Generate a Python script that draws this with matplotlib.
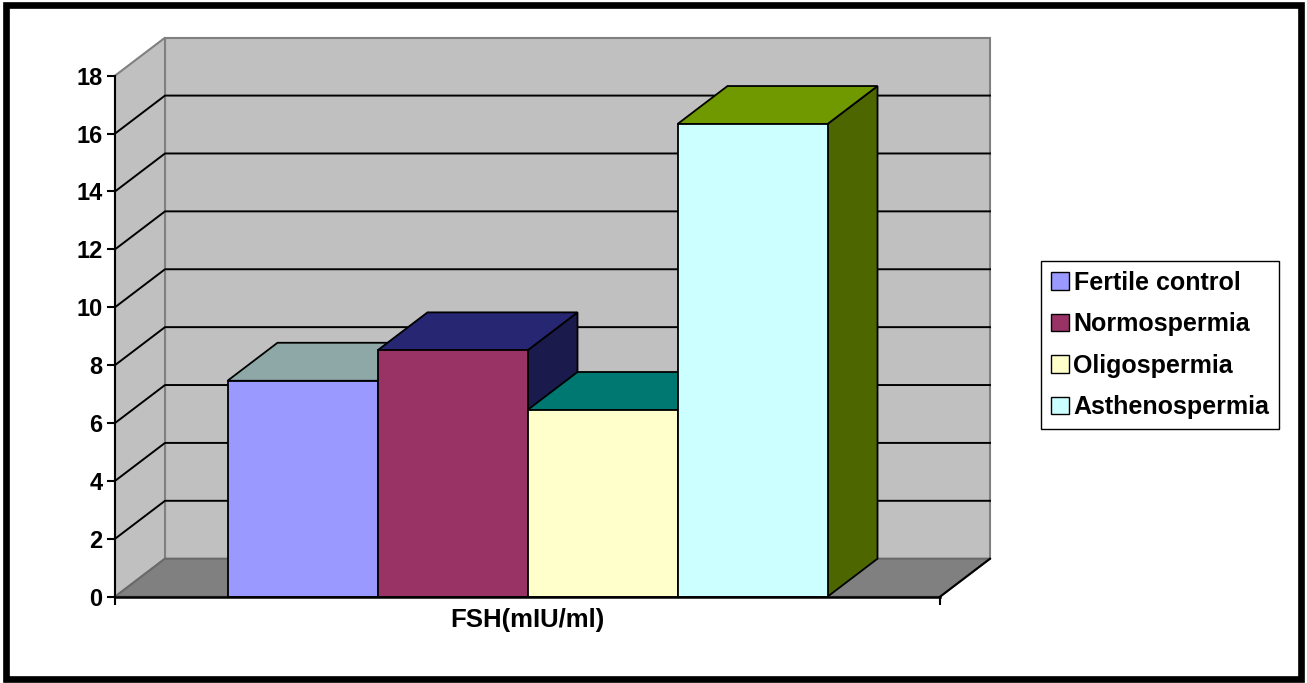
import matplotlib
matplotlib.use('Agg')
import matplotlib.pyplot as plt
import matplotlib.patches as patches
from matplotlib.lines import Line2D

# data
groups = ['Fertile control', 'Normospermia', 'Oligospermia', 'Asthenospermia']
fsh = [7.46, 8.51, 6.45, 16.33]
category = 'FSH(mIU/ml)'
yticks = [0, 2, 4, 6, 8, 10, 12, 14, 16, 18]

front_colors = ['#9999FF', '#993366', '#FFFFCC', '#CCFFFF']
top_colors = ['#8EA8A8', '#262673', '#007872', '#709900']
side_colors = ['#6B7F7F', '#1A1A4C', '#005550', '#4D6600']

plt.rcParams['font.family'] = ['Liberation Sans', 'DejaVu Sans']
plt.rcParams['font.weight'] = 'bold'

W, H = 1307, 683
fig = plt.figure(figsize=(W / 100, H / 100), dpi=100)
fig.patch.set_facecolor('white')

# front plane of the 3d box
ax = fig.add_axes([115 / W, (H - 596.7) / H, 825 / W, 521 / H])
ax.set_xlim(-0.75, len(groups) + 0.75)
ax.set_ylim(0, 18)
ax.patch.set_visible(False)

# depth of the box, in data units
DX = 50 / 150
DY = 38 / 28.94
x0, x1 = ax.get_xlim()
ytop = ax.get_ylim()[1]

wall = '#C0C0C0'
edge = '#808080'

# back wall, side wall, floor
ax.add_patch(patches.Rectangle((x0 + DX, DY), x1 - x0, ytop, facecolor=wall,
                               edgecolor=edge, lw=1.5, clip_on=False, zorder=0))
ax.add_patch(patches.Polygon([(x0, 0), (x0, ytop), (x0 + DX, ytop + DY), (x0 + DX, DY)],
                             closed=True, facecolor=wall, edgecolor=edge, lw=1.5,
                             clip_on=False, zorder=0))
ax.add_patch(patches.Polygon([(x0, 0), (x1, 0), (x1 + DX, DY), (x0 + DX, DY)],
                             closed=True, facecolor='#808080', edgecolor='#6A6A6A', lw=1.5,
                             clip_on=False, zorder=0.1))
ax.add_line(Line2D([x1, x1 + DX], [0, DY], color='black', lw=1.5, clip_on=False, zorder=0.2))

# gridlines on side wall and back wall
for v in yticks[1:-1]:
    ax.add_line(Line2D([x0, x0 + DX, x1 + DX], [v, v + DY, v + DY],
                       color='black', lw=1.4, clip_on=False, zorder=0.3))

# 3d bars: sides, then tops, then fronts
xs = list(range(len(groups)))
for i, v in enumerate(fsh):
    ax.add_patch(patches.Polygon([(xs[i] + 1, 0), (xs[i] + 1, v), (xs[i] + 1 + DX, v + DY), (xs[i] + 1 + DX, DY)],
                                 closed=True, facecolor=side_colors[i], edgecolor='black',
                                 lw=1.3, clip_on=False, zorder=1))
for i, v in enumerate(fsh):
    ax.add_patch(patches.Polygon([(xs[i], v), (xs[i] + 1, v), (xs[i] + 1 + DX, v + DY), (xs[i] + DX, v + DY)],
                                 closed=True, facecolor=top_colors[i], edgecolor='black',
                                 lw=1.3, clip_on=False, zorder=1.1))
bars = ax.bar([x + 0.5 for x in xs], fsh, width=1.0, color=front_colors,
              edgecolor='black', linewidth=1.3, zorder=1.2)

# axes
for s in ['top', 'right']:
    ax.spines[s].set_visible(False)
ax.spines['left'].set_linewidth(1.5)
ax.spines['bottom'].set_linewidth(1.8)
ax.set_yticks(yticks)
ax.set_yticklabels([str(t) for t in yticks], fontsize=17, fontweight='bold')
ax.tick_params(axis='y', direction='out', length=6, width=1.5, pad=3)
ax.set_xticks([len(groups) / 2], [category], fontsize=18.5, fontweight='bold')
ax.set_xticks([x0, x1], minor=True)
ax.tick_params(axis='x', which='major', length=0, pad=8)
ax.tick_params(axis='x', which='minor', direction='out', length=6, width=1.5)

# legend
handles = [patches.Patch(facecolor=c, edgecolor='black', lw=1.0) for c in front_colors]
leg = fig.legend(handles, groups, loc='center left', bbox_to_anchor=(1041 / W, 1 - 345 / H),
                 frameon=True, fancybox=False, edgecolor='black', framealpha=1,
                 prop={'size': 18, 'weight': 'bold'}, handlelength=0.7, handleheight=0.7,
                 handletextpad=0.2, labelspacing=0.7, borderpad=0.4, borderaxespad=0)
leg.get_frame().set_linewidth(1.0)

# outer chart border
fig.add_artist(patches.Rectangle((6 / W, 4.5 / H), (W - 12.5) / W, (H - 9.5) / H,
                                 transform=fig.transFigure, fill=False,
                                 edgecolor='black', lw=4.8))

fig.savefig('out.png', dpi=100)
